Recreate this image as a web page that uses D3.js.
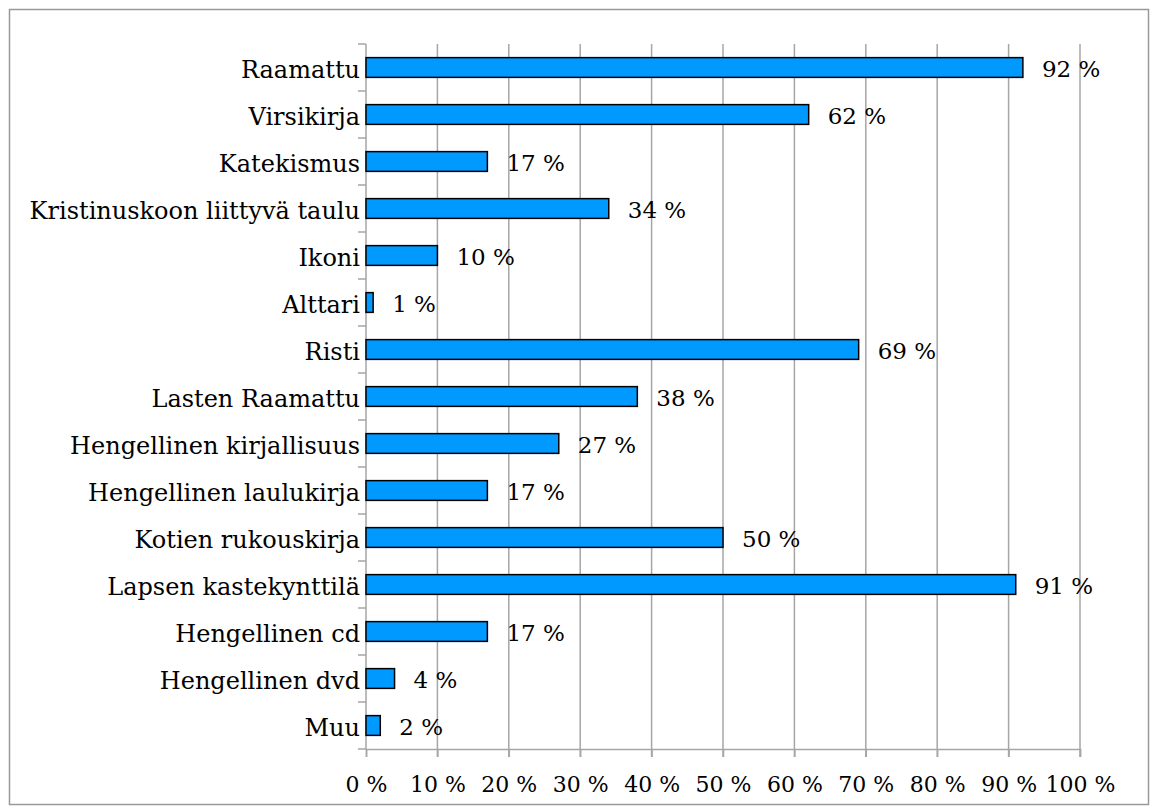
<!DOCTYPE html>
<html>
<head>
<meta charset="utf-8">
<script src="https://cdn.jsdelivr.net/npm/d3@7"></script>
<style>
  body { margin: 0; background: #fff; }
  text { font-family: "DejaVu Serif", serif; fill: #000; }
</style>
</head>
<body>
<svg id="chart"></svg>
<script>
const categories = ["Raamattu", "Virsikirja", "Katekismus", "Kristinuskoon liittyvä taulu", "Ikoni",
  "Alttari", "Risti", "Lasten Raamattu", "Hengellinen kirjallisuus", "Hengellinen laulukirja",
  "Kotien rukouskirja", "Lapsen kastekynttilä", "Hengellinen cd", "Hengellinen dvd", "Muu"];
const values = [92, 62, 17, 34, 10, 1, 69, 38, 27, 17, 50, 91, 17, 4, 2];
const xTicks = [0, 10, 20, 30, 40, 50, 60, 70, 80, 90, 100];

const width = 1151, height = 809;
const plotLeft = 366, plotRight = 1080, plotTop = 44, plotBottom = 749;

const svg = d3.select("#chart").attr("width", width).attr("height", height);

// outer frame
svg.append("rect")
  .attr("x", 9.5).attr("y", 9.5)
  .attr("width", 1139).attr("height", 795)
  .attr("fill", "none").attr("stroke", "#999").attr("stroke-width", 1.5);

const xScale = d3.scaleLinear().domain([0, 100]).range([plotLeft, plotRight]);
const yScale = d3.scaleBand().domain(categories).range([plotTop, plotBottom]).paddingInner(0.58).paddingOuter(0.29);

// gridlines
svg.append("g").selectAll("line")
  .data(xTicks.slice(1))
  .enter().append("line")
  .attr("x1", d => xScale(d)).attr("x2", d => xScale(d))
  .attr("y1", plotTop).attr("y2", plotBottom + 8)
  .attr("stroke", "#a6a6a6").attr("stroke-width", 1.5);

// x axis
const xAxis = svg.append("g")
  .attr("transform", `translate(0, ${plotBottom})`)
  .call(d3.axisBottom(xScale).tickValues(xTicks).tickSize(8).tickFormat(d => d + " %"));
xAxis.select(".domain").attr("stroke", "#a6a6a6").attr("stroke-width", 1.5);
xAxis.selectAll(".tick line").attr("stroke", "#a6a6a6").attr("stroke-width", 1.5);
xAxis.selectAll(".tick text")
  .attr("y", 43).attr("dy", 0)
  .style("font-family", "DejaVu Serif").style("font-size", "22px");

// y axis: ticks between categories
const step = yScale.step();
const catEdges = d3.range(categories.length + 1).map(i => plotTop + i * step);
svg.append("g").selectAll("line")
  .data(catEdges)
  .enter().append("line")
  .attr("x1", plotLeft - 8).attr("x2", plotLeft)
  .attr("y1", d => d).attr("y2", d => d)
  .attr("stroke", "#a6a6a6").attr("stroke-width", 1.5);
svg.append("line")
  .attr("x1", plotLeft).attr("x2", plotLeft)
  .attr("y1", plotTop).attr("y2", plotBottom)
  .attr("stroke", "#a6a6a6").attr("stroke-width", 1.5);

svg.append("g").selectAll("text")
  .data(categories)
  .enter().append("text")
  .attr("x", plotLeft - 6)
  .attr("y", d => yScale(d) + yScale.bandwidth() / 2)
  .attr("dy", "0.42em")
  .attr("text-anchor", "end")
  .style("font-size", "24px")
  .text(d => d);

// bars
const rows = categories.map((c, i) => ({ cat: c, val: values[i] }));
svg.append("g").selectAll("rect")
  .data(rows)
  .enter().append("rect")
  .attr("x", xScale(0))
  .attr("y", d => yScale(d.cat))
  .attr("width", d => xScale(d.val) - xScale(0))
  .attr("height", yScale.bandwidth())
  .attr("fill", "#0099ff")
  .attr("stroke", "#000").attr("stroke-width", 1.5);

// value labels
svg.append("g").selectAll("text")
  .data(rows)
  .enter().append("text")
  .attr("x", d => xScale(d.val) + 19)
  .attr("y", d => yScale(d.cat) + yScale.bandwidth() / 2)
  .attr("dy", "0.42em")
  .style("font-size", "23px")
  .text(d => d.val + " %");
</script>
</body>
</html>
